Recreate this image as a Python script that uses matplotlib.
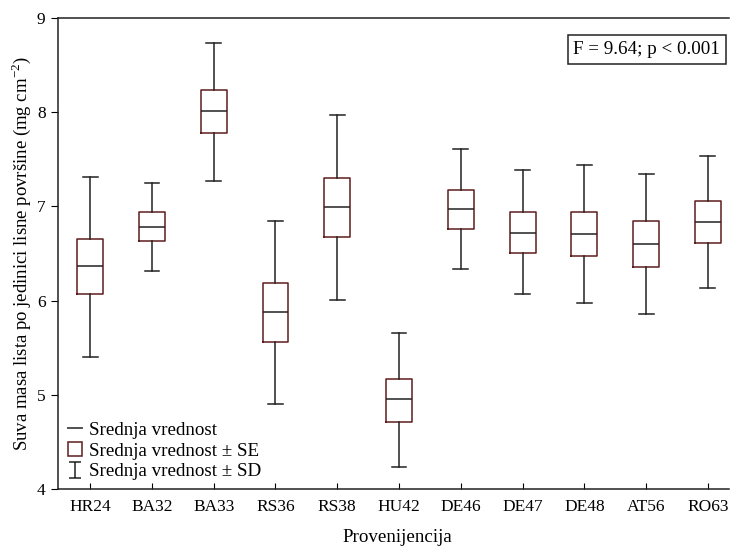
import numpy as np
import matplotlib
matplotlib.use('Agg')
import matplotlib.pyplot as plt
from matplotlib.lines import Line2D
from matplotlib.path import Path

plt.rcParams['font.family'] = ['Liberation Serif', 'DejaVu Serif']
plt.rcParams['mathtext.fontset'] = 'custom'
plt.rcParams['mathtext.rm'] = 'Liberation Serif'

# provenances and statistics
provenances = ['HR24', 'BA32', 'BA33', 'RS36', 'RS38', 'HU42',
               'DE46', 'DE47', 'DE48', 'AT56', 'RO63']
mean_vals = [6.37, 6.78, 8.01, 5.88, 6.99, 4.95, 6.97, 6.72, 6.71, 6.60, 6.83]
se_low = [6.07, 6.63, 7.78, 5.56, 6.68, 4.71, 6.76, 6.51, 6.47, 6.36, 6.61]
se_high = [6.65, 6.94, 8.24, 6.19, 7.30, 5.17, 7.17, 6.94, 6.94, 6.85, 7.06]
sd_low = [5.40, 6.31, 7.27, 4.90, 6.01, 4.23, 6.34, 6.07, 5.97, 5.86, 6.13]
sd_high = [7.31, 7.25, 8.74, 6.85, 7.97, 5.66, 7.61, 7.39, 7.44, 7.35, 7.54]

box_col = '#5e1c1c'
line_col = '#222222'
fs_tick = 12.5
fs_text = 13.7

fig = plt.figure(figsize=(7.3, 5.5), dpi=100)
ax = fig.add_axes([0.0795, 0.111, 0.919, 0.856])

stats = []
for i, name in enumerate(provenances):
    stats.append({'label': name, 'med': mean_vals[i], 'q1': se_low[i],
                  'q3': se_high[i], 'whislo': sd_low[i], 'whishi': sd_high[i],
                  'fliers': []})

ax.bxp(stats, positions=np.arange(len(provenances)), widths=0.42,
       capwidths=0.24, showfliers=False,
       boxprops=dict(color=box_col, linewidth=1.1),
       medianprops=dict(color=line_col, linewidth=1.1),
       whiskerprops=dict(color=line_col, linewidth=1.1),
       capprops=dict(color=line_col, linewidth=1.1))

ax.set_xlim(-0.52, 10.34)
ax.set_ylim(4, 9)
ax.set_yticks([4, 5, 6, 7, 8, 9])
ax.set_xticks(np.arange(len(provenances)))
ax.set_xticklabels(provenances)
ax.tick_params(axis='x', direction='in', length=4, labelsize=fs_tick, pad=7)
ax.tick_params(axis='y', direction='out', length=5, labelsize=fs_tick, pad=4)
ax.spines['right'].set_visible(False)
for s in ['left', 'bottom', 'top']:
    ax.spines[s].set_linewidth(1.1)
    ax.spines[s].set_color('#222222')

ax.set_xlabel('Provenijencija', fontsize=fs_text, labelpad=12)
ax.xaxis.set_label_coords(0.506, -0.085)
ax.set_ylabel('Suva masa lista po jedinici lisne površine (mg cm$^{-2}$)',
              fontsize=13.5, labelpad=3)

ax.text(0.987, 0.933, 'F = 9.64; p < 0.001', transform=ax.transAxes,
        ha='right', va='center', fontsize=fs_text,
        bbox=dict(boxstyle='square,pad=0.3', fc='white', ec='#222222', lw=1.1))

# I-shaped marker for the SD entry
ibar = Path([(-0.7, 1), (0.7, 1), (0, 1), (0, -1), (-0.7, -1), (0.7, -1)],
            [Path.MOVETO, Path.LINETO, Path.MOVETO, Path.LINETO,
             Path.MOVETO, Path.LINETO])
handles = [
    Line2D([], [], color=line_col, marker='_', markersize=11, lw=0, mew=1.1),
    Line2D([], [], color=box_col, marker='s', markersize=10.5, mfc='none',
           lw=0, mew=1.1),
    Line2D([], [], color=line_col, marker=ibar, markersize=12, lw=0, mew=1.1),
]
labels = ['Srednja vrednost', 'Srednja vrednost ± SE', 'Srednja vrednost ± SD']
ax.legend(handles, labels, loc='lower left', frameon=False, fontsize=fs_text,
          handlelength=0.9, handletextpad=0.3, labelspacing=0.18,
          borderaxespad=0.15, borderpad=0.3, bbox_to_anchor=(0.0, 0.0))

fig.savefig('out.png', dpi=100)
